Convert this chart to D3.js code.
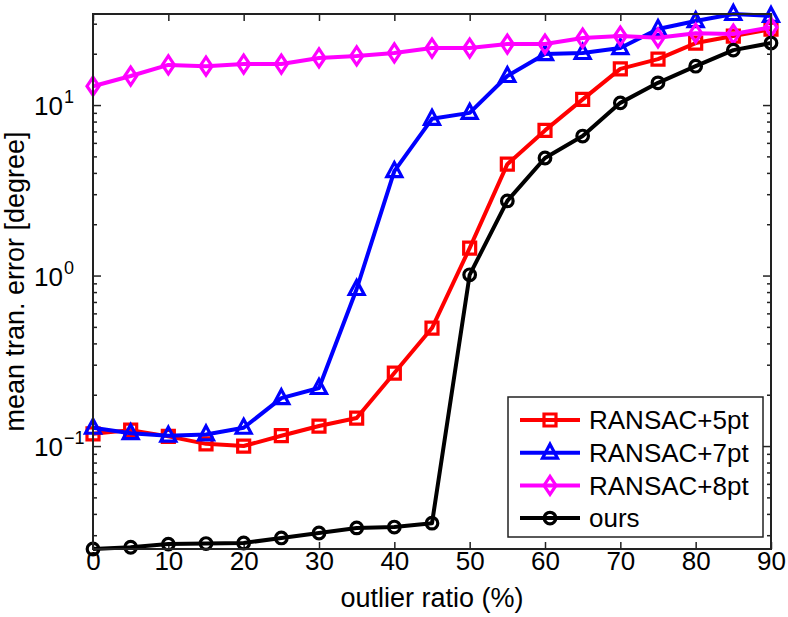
<!DOCTYPE html>
<html>
<head>
<meta charset="utf-8">
<script src="https://cdn.jsdelivr.net/npm/d3@7"></script>
<style>
  body { margin: 0; background: #fff; }
  svg { font-family: "Liberation Sans", Arial, sans-serif; }
</style>
</head>
<body>
<svg class="linechart" width="788" height="617"></svg>
<script>

// outlier ratio (%)
let ratios = [0, 5, 10, 15, 20, 25, 30, 35, 40, 45, 50, 55, 60, 65, 70, 75, 80, 85, 90];

// mean translation error [degree]
let ransac5 = [0.118, 0.124, 0.114, 0.103, 0.100, 0.115, 0.131, 0.146, 0.268, 0.492, 1.45, 4.5, 7.1, 10.8, 16.3, 18.6, 23.1, 25.4, 27.9];
let ransac7 = [0.128, 0.119, 0.115, 0.117, 0.128, 0.191, 0.219, 0.834, 4.1, 8.3, 9.0, 14.8, 19.9, 20.2, 21.6, 27.9, 31.1, 34.2, 33.3];
let ransac8 = [12.9, 14.8, 17.2, 16.9, 17.4, 17.4, 18.9, 19.4, 20.2, 21.6, 21.6, 22.8, 22.8, 24.7, 25.4, 24.8, 26.4, 26.1, 28.6];
let ours    = [0.0249, 0.0255, 0.0266, 0.0268, 0.0270, 0.0289, 0.0309, 0.0331, 0.0335, 0.0353, 1.01, 2.74, 4.89, 6.58, 10.3, 13.5, 16.9, 21.0, 23.1];

let seriesNames = ["RANSAC+5pt", "RANSAC+7pt", "RANSAC+8pt", "ours"];
let seriesColors = ["#ff0000", "#0000ff", "#ff00ff", "#000000"];
let seriesMarkers = ["square", "triangle", "diamond", "circle"];

let xTicks = [0, 10, 20, 30, 40, 50, 60, 70, 80, 90];
let yMajor = [0.1, 1, 10];
let yLabels = [["10", "\u22121"], ["10", "0"], ["10", "1"]];

let drawLineChart = function()
{
  let svg = d3.select("body").select(".linechart");

  // MATLAB-ish axes box
  let margin = { top: 14, right: 17, bottom: 68, left: 93 };
  let bounds = svg.node().getBoundingClientRect();
  let plotWidth = bounds.width - margin.left - margin.right;
  let plotHeight = bounds.height - margin.top - margin.bottom;

  let series = seriesNames.map((name, i) => ({
    name: name,
    color: seriesColors[i],
    marker: seriesMarkers[i],
    values: [ransac5, ransac7, ransac8, ours][i]
  }));

  let xScale = d3.scaleLinear()
    .domain([0, 90])
    .range([0, plotWidth]);

  // tight y limits like "axis tight"
  let yScale = d3.scaleLog()
    .domain([d3.min(ours), d3.max(ransac7)])
    .range([plotHeight, 0]);

  let plot = svg.append("g").attr("id", "plot")
    .attr("transform", translate(margin.left, margin.top));

  // minor log ticks inside the domain
  let yMinor = [];
  for (let e = -2; e <= 1; e++) {
    for (let m = 2; m <= 9; m++) {
      let v = m * Math.pow(10, e);
      if (v >= yScale.domain()[0] && v <= yScale.domain()[1]) yMinor.push(v);
    }
  }

  let tickColor = "#222";

  // x ticks bottom + top (inward)
  let xBottom = plot.append("g").attr("id", "x-axis")
    .attr("transform", translate(0, plotHeight))
    .call(d3.axisBottom(xScale).tickValues(xTicks).tickSize(-7).tickSizeOuter(0).tickPadding(4));
  xBottom.selectAll("text")
    .attr("dy", null)
    .attr("y", 21)
    .style("font-size", "26px")
    .style("fill", "#000");

  plot.append("g")
    .call(d3.axisTop(xScale).tickValues(xTicks).tickSize(-7).tickSizeOuter(0).tickFormat(""));

  // y ticks left + right, major and minor
  plot.append("g").call(d3.axisLeft(yScale).tickValues(yMajor).tickSize(-8).tickSizeOuter(0).tickFormat(""));
  plot.append("g").call(d3.axisLeft(yScale).tickValues(yMinor).tickSize(-4).tickSizeOuter(0).tickFormat(""));
  plot.append("g").attr("transform", translate(plotWidth, 0))
    .call(d3.axisRight(yScale).tickValues(yMajor).tickSize(-8).tickSizeOuter(0).tickFormat(""));
  plot.append("g").attr("transform", translate(plotWidth, 0))
    .call(d3.axisRight(yScale).tickValues(yMinor).tickSize(-4).tickSizeOuter(0).tickFormat(""));

  plot.selectAll(".domain").remove();
  plot.selectAll(".tick line").attr("stroke", tickColor).attr("stroke-width", 1.5);

  // y tick labels 10^k
  let yLab = plot.append("g").attr("id", "y-labels");
  yMajor.forEach((v, i) => {
    yLab.append("text")
      .attr("x", -30)
      .attr("y", yScale(v) + 10)
      .attr("text-anchor", "end")
      .style("font-size", "26px")
      .text(yLabels[i][0]);
    yLab.append("text")
      .attr("x", -29)
      .attr("y", yScale(v) - 2)
      .attr("text-anchor", "start")
      .style("font-size", "18px")
      .text(yLabels[i][1]);
  });

  let line = d3.line()
    .x((d, i) => xScale(ratios[i]))
    .y(d => yScale(d));

  let groups = plot.selectAll(".series")
    .data(series)
    .join("g")
    .attr("class", "series");

  groups.append("path")
    .attr("d", d => line(d.values))
    .attr("fill", "none")
    .attr("stroke", d => d.color)
    .attr("stroke-width", 4)
    .attr("stroke-linejoin", "round");

  groups.each(function(s) {
    d3.select(this).selectAll("path.marker")
      .data(s.values)
      .join("path")
      .attr("class", "marker")
      .attr("transform", (d, i) => translate(xScale(ratios[i]), yScale(d)))
      .attr("d", markerPath(s.marker))
      .attr("fill", "none")
      .attr("stroke", s.color)
      .attr("stroke-width", 3.2);
  });

  // axes frame on top
  plot.append("rect")
    .attr("width", plotWidth)
    .attr("height", plotHeight)
    .attr("fill", "none")
    .attr("stroke", tickColor)
    .attr("stroke-width", 2);

  // legend
  let legend = plot.append("g").attr("id", "legend")
    .attr("transform", translate(415, 383));
  legend.append("rect")
    .attr("width", 255)
    .attr("height", 140)
    .attr("fill", "#fff")
    .attr("stroke", tickColor)
    .attr("stroke-width", 1.5);

  let items = legend.selectAll(".item")
    .data(series)
    .join("g")
    .attr("class", "item")
    .attr("transform", (d, i) => translate(0, 23 + i * 32.7));
  items.append("line")
    .attr("x1", 12).attr("x2", 72)
    .attr("stroke", d => d.color)
    .attr("stroke-width", 4);
  items.append("path")
    .attr("transform", translate(42, 0))
    .attr("d", d => markerPath(d.marker))
    .attr("fill", "none")
    .attr("stroke", d => d.color)
    .attr("stroke-width", 3.2);
  items.append("text")
    .attr("x", 81)
    .attr("dy", "0.36em")
    .style("font-size", "26px")
    .text(d => d.name);

  // axis labels
  svg.append("text")
    .attr("transform", translate(margin.left + plotWidth / 2, 607))
    .attr("text-anchor", "middle")
    .style("font-size", "27px")
    .text("outlier ratio (%)");

  svg.append("text")
    .attr("transform", translate(24, margin.top + plotHeight / 2) + " rotate(-90)")
    .attr("text-anchor", "middle")
    .style("font-size", "27px")
    .text("mean tran. error [degree]");
};

function markerPath(type) {
  if (type == "square") return "M-6,-6H6V6H-6Z";
  if (type == "triangle") return "M0,-8.5L7.5,5.5H-7.5Z";
  if (type == "diamond") return "M0,-9L6,0L0,9L-6,0Z";
  // circle
  return "M5.8,0A5.8,5.8 0 1,1 -5.8,0A5.8,5.8 0 1,1 5.8,0Z";
}

function translate(x, y) {
  return 'translate(' + x + ',' + y + ')';
}

drawLineChart();
</script>
</body>
</html>
